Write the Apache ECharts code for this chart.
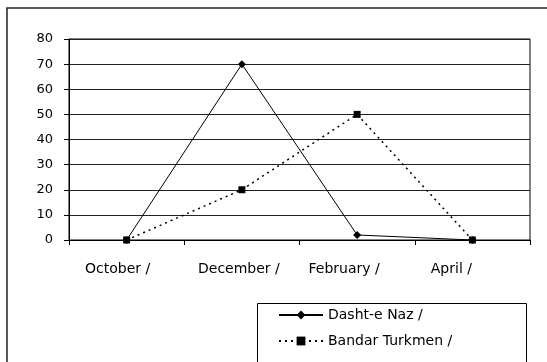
<!DOCTYPE html>
<html>
<head>
<meta charset="utf-8">
<script src="https://cdn.jsdelivr.net/npm/echarts@6/dist/echarts.min.js"></script>
<style>
html,body{margin:0;padding:0;background:#fff;}
#c{width:547px;height:362px;}
</style>
</head>
<body>
<div id="c"></div>
<script>
const categories = ['October /', 'December /', 'February /', 'April /'];
const dashtENaz = [0, 70, 2, 0];
const bandarTurkmen = [0, 20, 50, 0];
const seriesNames = ['Dasht-e Naz /', 'Bandar Turkmen /'];

// per-label horizontal shift (style only) to mimic the reference label placement
const labelShift = [18, 6, 26, 42];

const chart = echarts.init(document.getElementById('c'), null, {renderer: 'canvas'});
const font = '"DejaVu Sans", Verdana, sans-serif';
const rich = {};
labelShift.forEach((p, i) => {
  rich['c' + i] = {fontFamily: font, fontSize: 14, color: '#000', padding: [0, p, 0, 0]};
});
chart.setOption({
  animation: false,
  backgroundColor: '#fff',
  textStyle: {fontFamily: font},
  graphic: [{
    type: 'rect',
    shape: {x: 7, y: 8, width: 600, height: 400},
    style: {fill: 'none', stroke: '#222', lineWidth: 1.5},
    silent: true
  }, {
    type: 'rect',
    shape: {x: 257.5, y: 303.5, width: 269, height: 100},
    style: {fill: 'none', stroke: '#000', lineWidth: 1},
    silent: true
  }],
  grid: {left: 69, top: 39, right: 17, bottom: 122, show: true, borderColor: '#000', borderWidth: 1},
  legend: {
    orient: 'vertical',
    left: 278,
    top: 308,
    padding: 0,
    itemWidth: 44,
    itemHeight: 11,
    itemGap: 12,
    textStyle: {fontFamily: font, fontSize: 14, color: '#000', lineHeight: 14},
    data: seriesNames
  },
  xAxis: {
    type: 'category',
    data: categories,
    boundaryGap: true,
    axisLine: {lineStyle: {color: '#000', width: 1}},
    axisTick: {show: true, interval: 0, length: 5, lineStyle: {color: '#000'}},
    axisLabel: {
      interval: 0, hideOverlap: false,
      color: '#000', fontSize: 14, margin: 22, fontFamily: font,
      formatter: (v, i) => '{c' + i + '|' + v + '}',
      rich: rich
    }
  },
  yAxis: {
    type: 'value',
    min: 0, max: 80, interval: 10,
    axisLine: {show: true, lineStyle: {color: '#000', width: 1}},
    axisTick: {show: true, length: 5, lineStyle: {color: '#000'}},
    axisLabel: {color: '#000', fontSize: 13, margin: 16, fontFamily: font},
    splitLine: {show: true, lineStyle: {color: '#222', width: 1}}
  },
  series: [
    {
      name: seriesNames[0],
      type: 'line',
      data: dashtENaz,
      symbol: 'diamond',
      symbolSize: 8,
      itemStyle: {color: '#000'},
      lineStyle: {color: '#000', width: 1}
    },
    {
      name: seriesNames[1],
      type: 'line',
      data: bandarTurkmen,
      symbol: 'rect',
      symbolSize: 7,
      itemStyle: {color: '#000'},
      lineStyle: {color: '#000', width: 1.5, type: [2, 4]}
    }
  ]
});
</script>
</body>
</html>
